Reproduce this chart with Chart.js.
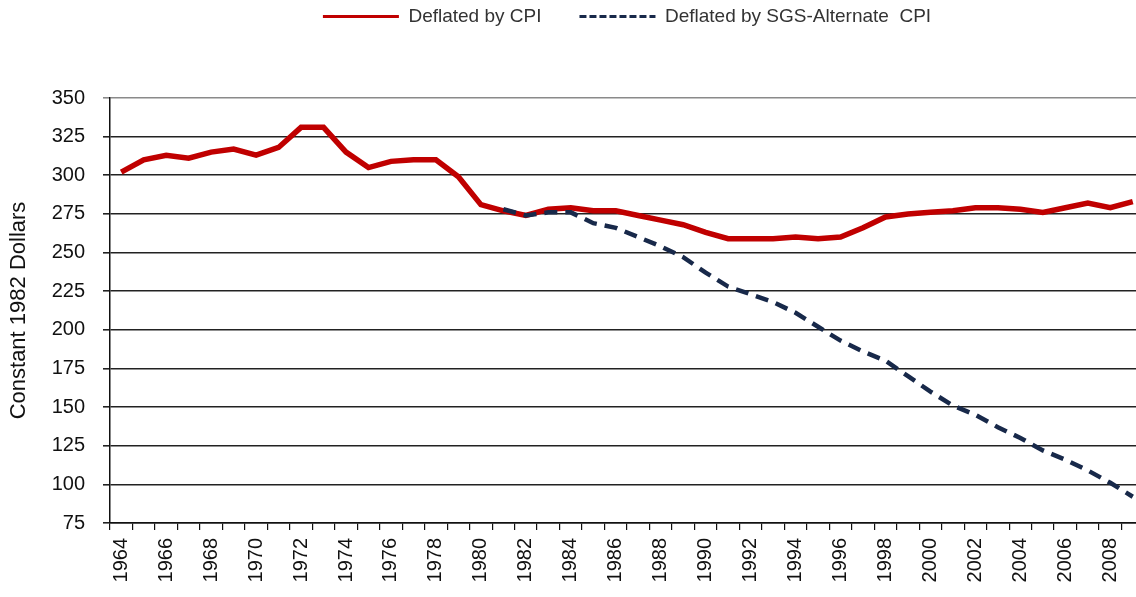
<!DOCTYPE html>
<html>
<head>
<meta charset="utf-8">
<script src="https://cdn.jsdelivr.net/npm/chart.js@4"></script>
<style>
  html, body { margin: 0; padding: 0; background: #fff; overflow: hidden; }
  #wrap { width: 1136px; height: 597px; overflow: hidden; }
</style>
</head>
<body>
<div id="wrap"><canvas id="myCanvas" width="1146" height="597"></canvas></div>
<script>
var anni = [];
for (var a = 1964; a <= 2009; a++) anni.push(String(a));

var deflCPI = [302, 310, 313, 311, 315, 317, 313, 318, 331, 331,
               315, 305, 309, 310, 310, 299, 281, 277, 274, 278,
               279, 277, 277, 274, 271, 268, 263, 259, 259, 259,
               260, 259, 260, 266, 273, 275, 276, 277, 279, 279,
               278, 276, 279, 282, 279, 283];

var deflSGS = [null, null, null, null, null, null, null, null, null, null,
               null, null, null, null, null, null, null, 278, 274, 276,
               276, 269, 266, 260, 254, 247, 237, 228, 223, 218,
               211, 202, 193, 186, 180, 170, 160, 151, 145, 137,
               130, 122, 116, 109, 101, 92];

var etichette = ["Deflated by CPI", "Deflated by SGS-Alternate  CPI"];
var titoloY = "Constant 1982 Dollars";

var font = "'Liberation Sans', Arial, sans-serif";

// legenda alta: allunga il box della legenda
var legendaAlta = {
  id: 'legendaAlta',
  beforeInit: function (chart) {
    var fit = chart.legend.fit;
    chart.legend.fit = function () {
      fit.bind(chart.legend)();
      this.height = 129;
    };
  }
};

var ctx = document.querySelector("#myCanvas").getContext("2d");
var chart = new Chart(ctx, {
  type: "line",
  data: {
    labels: anni,
    datasets: [
      {
        label: etichette[0],
        data: deflCPI,
        borderColor: "#C00000",
        backgroundColor: "#C00000",
        borderWidth: 5.5,
        pointRadius: 0,
        tension: 0,
        order: 1
      },
      {
        label: etichette[1],
        data: deflSGS,
        borderColor: "#18294A",
        backgroundColor: "#18294A",
        borderWidth: 4.5,
        borderDash: [13, 8],
        pointRadius: 0,
        tension: 0,
        order: 0
      }
    ]
  },
  options: {
    responsive: false,
    animation: false,
    layout: { padding: { top: -31, right: 2, left: 0, bottom: 0 } },
    plugins: {
      tooltip: { enabled: false },
      legend: {
        position: "top",
        fullSize: false,
        labels: {
          usePointStyle: true,
          pointStyle: "line",
          pointStyleWidth: 76,
          boxHeight: 19,
          padding: 38,
          color: "#333",
          font: { family: font, size: 19 },
          sort: function (a, b) { return a.datasetIndex - b.datasetIndex; },
          generateLabels: function (c) {
            var items = Chart.defaults.plugins.legend.labels.generateLabels(c);
            items.forEach(function (it) {
              it.lineWidth = 3;
              it.lineDash = it.datasetIndex === 1 ? [7, 3] : [];
            });
            return items;
          }
        }
      }
    },
    scales: {
      x: {
        offset: true,
        afterFit: function (s) { s.height = 74; s.paddingLeft = 0; s.paddingRight = 0; },
        grid: {
          display: true,
          offset: true,
          drawOnChartArea: false,
          drawTicks: true,
          tickLength: 7,
          color: "#111",
          lineWidth: 1.2
        },
        border: { color: "#111", width: 1.5 },
        ticks: {
          autoSkip: false,
          minRotation: 90,
          maxRotation: 90,
          padding: 8,
          color: "#111",
          font: { family: font, size: 20 },
          callback: function (v, i) { return i % 2 === 0 ? anni[i] : ""; }
        }
      },
      y: {
        min: 75,
        max: 350,
        afterFit: function (s) { s.width = 110; },
        title: {
          display: true,
          text: titoloY,
          color: "#111",
          font: { family: font, size: 22 },
          padding: { top: 6, bottom: 0 }
        },
        grid: {
          color: function (c) { return c.tick && c.tick.value === 350 ? "#8a8a8a" : "#222"; },
          lineWidth: 1.6,
          tickLength: 7
        },
        border: { color: "#111", width: 1.5 },
        ticks: {
          stepSize: 25,
          padding: 18,
          color: "#111",
          font: { family: font, size: 20 }
        }
      }
    }
  },
  plugins: [legendaAlta]
});
</script>
</body>
</html>
